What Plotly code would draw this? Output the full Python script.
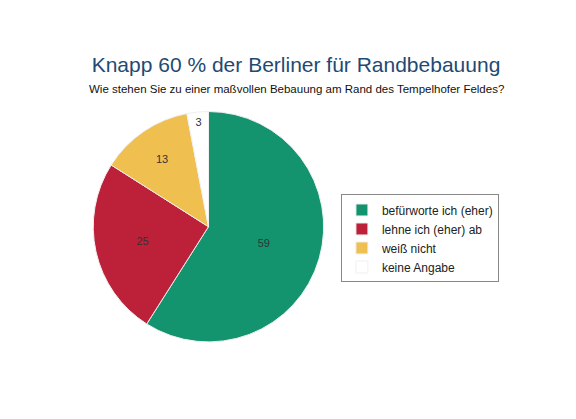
import plotly.graph_objects as go

labels = ["befürworte ich (eher)", "lehne ich (eher) ab", "weiß nicht", "keine Angabe"]
values = [59, 25, 13, 3]
colors = ["#13946f", "#bd2139", "#efbf4f", "#ffffff"]

fig = go.Figure(go.Pie(
    labels=labels,
    values=values,
    sort=False,
    direction="clockwise",
    rotation=0,
    marker=dict(colors=colors, line=dict(color="#f0f0f0", width=1)),
    textinfo="value",
    textposition="inside",
    insidetextfont=dict(color="#333333", size=11),
    domain=dict(x=[0.148, 0.548], y=[0.202, 0.754]),
))

fig.update_layout(
    width=576, height=419,
    margin=dict(l=0, r=0, t=0, b=0),
    paper_bgcolor="white",
    font=dict(family="Liberation Sans, Arial, sans-serif"),
    title=dict(text="Knapp 60 % der Berliner für Randbebauung",
               x=0.5, xanchor="center", y=0.845, yanchor="middle",
               font=dict(size=21, color="#1f4a73")),
    annotations=[dict(text="Wie stehen Sie zu einer maßvollen Bebauung am Rand des Tempelhofer Feldes?",
                      x=0.5, y=0.79, xref="paper", yref="paper", showarrow=False,
                      font=dict(size=11.5, color="#111111"))],
    legend=dict(x=0.582, y=0.555, xanchor="left", yanchor="top",
                bordercolor="#888888", borderwidth=1,
                font=dict(size=13, color="#222222"), tracegroupgap=0),
)
fig.update_layout(
    title=dict(y=0.865),
    annotations=[dict(text="Wie stehen Sie zu einer maßvollen Bebauung am Rand des Tempelhofer Feldes?",
                      x=0.5, y=0.79 + 0.036, xref="paper", yref="paper", showarrow=False,
                      font=dict(size=11.5, color="#111111"))],
    legend=dict(x=0.578, y=0.555, font=dict(size=12), itemwidth=30),
)

fig.write_html("out.html")
